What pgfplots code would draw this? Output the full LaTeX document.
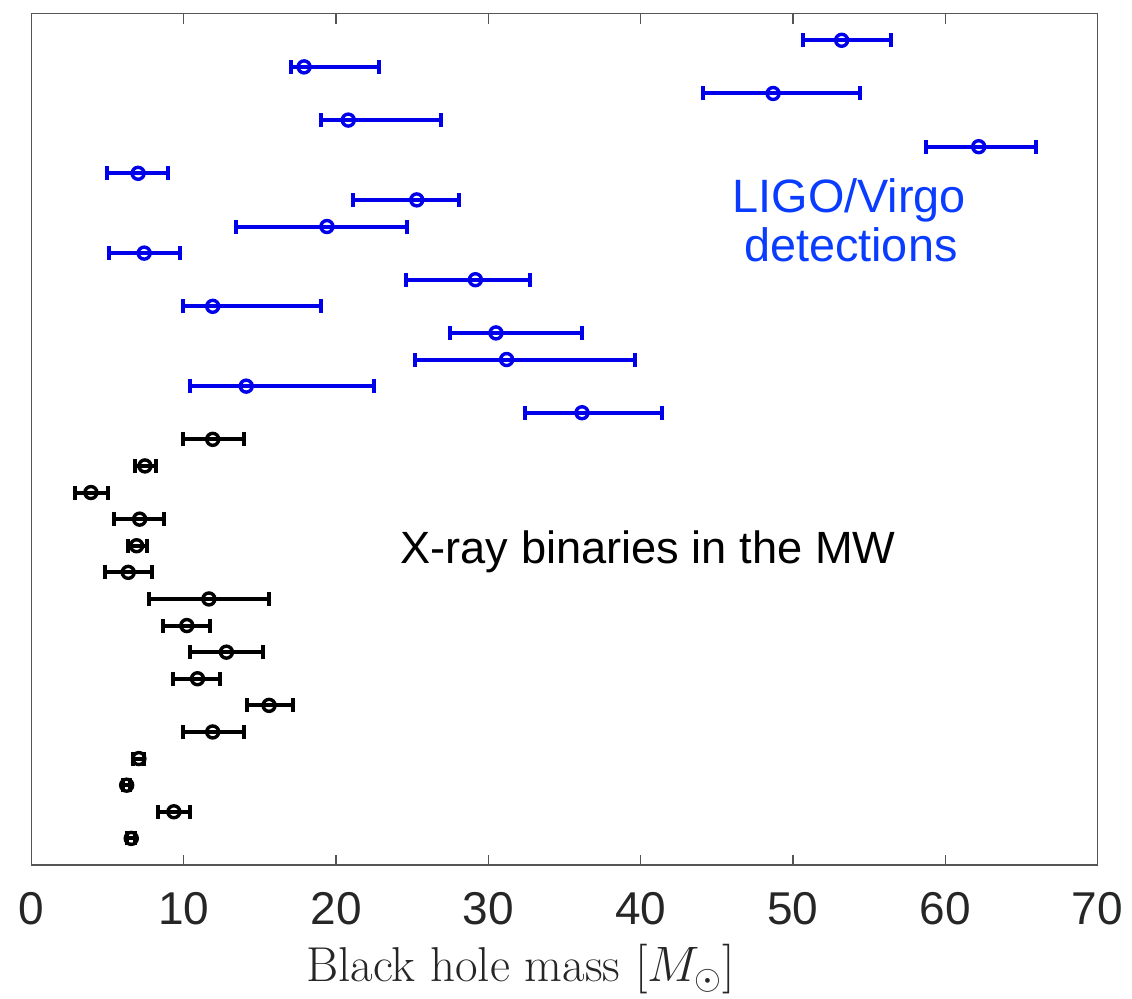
\documentclass[border=0pt]{standalone}
\usepackage{fontspec}
\usepackage{pgfplots}
\usepackage{pgfplotstable}
\pgfplotsset{compat=1.18}
\newfontfamily\helv{Liberation Sans}
\definecolor{ligoblue}{RGB}{0,0,235}
\definecolor{labelblue}{RGB}{10,60,255}
\definecolor{axisgray}{RGB}{85,85,85}

% Gravitational-wave detections: row, mass, lower and upper bound
\pgfplotstableread{
row m lo hi
31 53.2 50.65 56.45
30 17.9 17.05 22.8
29 48.7 44.07 54.39
28 20.8 19.02 26.9
27 62.2 58.77 65.98
26 7.0 4.94 8.95
25 25.3 21.08 28.07
24 19.4 13.44 24.65
23 7.4 5.11 9.76
22 29.15 24.6 32.75
21 11.9 9.93 19.0
20 30.5 27.5 36.15
19 31.2 25.2 39.65
18 14.1 10.41 22.5
17 36.15 32.38 41.4
}\ligo

% Galactic X-ray binaries: row, mass, lower and upper bound
\pgfplotstableread{
row m lo hi
16 11.9 9.93 13.98
15 7.45 6.8 8.18
14 3.9 2.88 5.0
13 7.1 5.44 8.72
12 6.9 6.36 7.57
11 6.35 4.83 7.94
10 11.65 7.74 15.62
9 10.2 8.66 11.73
8 12.8 10.41 15.23
7 10.9 9.32 12.38
6 15.6 14.14 17.16
5 11.9 9.93 13.98
4 7.05 6.69 7.41
3 6.25 6.0 6.5
2 9.35 8.33 10.41
1 6.55 6.3 6.8
}\xrb

\begin{document}
\begin{tikzpicture}[x=1pt,y=1pt]
\useasboundingbox (-15.75,-67) rectangle (550.25,432.5);
\begin{axis}[
  at={(0,0)}, anchor=south west,
  scale only axis, width=533pt, height=425.65pt,
  xmin=0, xmax=70, ymin=0, ymax=32,
  xtick={0,10,...,70}, ytick=\empty,
  axis line style={axisgray, line width=0.6pt},
  major tick length=5pt,
  tick style={axisgray, line width=0.6pt},
  /pgf/number format/assume math mode=true,
  xticklabel style={font=\helv\fontsize{23}{23}\selectfont, inner sep=0pt, yshift=-13.3pt, text=black!85},
  xlabel={Black hole mass $[M_\odot]$},
  xlabel style={at={(axis description cs:0.459,0)}, anchor=base, yshift=-58.5pt,
    font=\fontsize{24.5}{29}\selectfont, text=black!85},
  clip=false,
]
\addplot[ligoblue, only marks, mark=o, mark size=3pt, mark options={line width=1.7pt},
  error bars/.cd, x dir=both, x explicit,
  error bar style={line width=2pt, ligoblue},
  error mark options={rotate=90, mark size=3.5pt, line width=2pt, ligoblue}]
  table[x=m, y=row, x error plus expr=\thisrow{hi}-\thisrow{m}, x error minus expr=\thisrow{m}-\thisrow{lo}] {\ligo};
\addplot[black, only marks, mark=o, mark size=3pt, mark options={line width=1.7pt},
  error bars/.cd, x dir=both, x explicit,
  error bar style={line width=2pt, black},
  error mark options={rotate=90, mark size=3.5pt, line width=2pt, black}]
  table[x=m, y=row, x error plus expr=\thisrow{hi}-\thisrow{m}, x error minus expr=\thisrow{m}-\thisrow{lo}] {\xrb};
\node[anchor=base, text=labelblue, font=\helv\fontsize{23.4}{23.4}\selectfont] at (axis cs:53.7,24.51) {LIGO/Virgo};
\node[anchor=base, text=labelblue, font=\helv\fontsize{23.4}{23.4}\selectfont] at (axis cs:53.8,22.67) {detections};
\node[anchor=base west, inner sep=0pt, font=\helv\fontsize{22.6}{22.6}\selectfont] at (axis cs:24.21,11.35) {X-ray binaries in the MW};
\end{axis}
\end{tikzpicture}
\end{document}
